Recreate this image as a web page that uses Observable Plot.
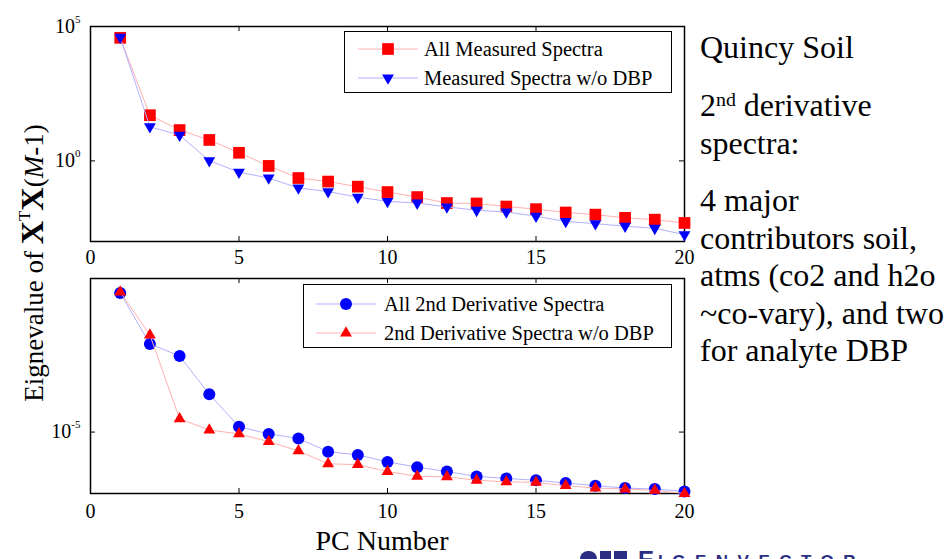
<!DOCTYPE html>
<html><head><meta charset="utf-8">
<script src="https://cdn.jsdelivr.net/npm/d3@7"></script>
<script src="https://cdn.jsdelivr.net/npm/@observablehq/plot@0.6"></script>
<style>
body{margin:0;background:#fff;}
#root{position:relative;width:948px;height:559px;overflow:hidden;font-family:"Liberation Serif","Times New Roman",serif;color:#000;background:#fff;}
.legend{position:absolute;border:1.5px solid #000;background:#fff;box-sizing:border-box;font-size:20.5px;font-family:"Liberation Serif",serif;}
.row{position:absolute;left:0;white-space:nowrap;}
.row svg{position:absolute;left:0;top:0;overflow:visible;}
.row span{position:absolute;top:0;line-height:1;}
.ylab{position:absolute;left:32px;top:263px;transform:translate(-50%,-50%) rotate(-90deg);white-space:nowrap;font-size:27px;line-height:1;font-family:"Liberation Serif",serif;}
.ylab b{font-size:1.2em;}
.ylab sup{font-size:0.62em;vertical-align:0.75em;line-height:0;}
.note{position:absolute;left:700px;font-size:32px;line-height:37.5px;white-space:nowrap;font-family:"Liberation Serif","Times New Roman",serif;}
.note sup{font-size:0.62em;vertical-align:10px;line-height:0;}
.xlab{position:absolute;left:382px;top:527px;transform:translateX(-50%);font-size:28px;line-height:1;white-space:nowrap;font-family:"Liberation Serif",serif;}
.logo{position:absolute;color:#2b2e83;font-family:"Liberation Sans",Arial,sans-serif;font-weight:bold;white-space:nowrap;line-height:1;}
</style></head><body><div id="root"></div>
<script>
// ---- data ----
const pcNumber = [1,2,3,4,5,6,7,8,9,10,11,12,13,14,15,16,17,18,19,20];
const allMeasured   = [3.8e4, 50, 14, 6.0, 2.0, 0.65, 0.23, 0.17, 0.11, 0.069, 0.045, 0.027, 0.026, 0.020, 0.016, 0.012, 0.010, 0.0076, 0.0065, 0.0049];
const measuredNoDBP = [4.0e4, 18.6, 9.1, 1.02, 0.38, 0.23, 0.098, 0.072, 0.045, 0.031, 0.027, 0.0195, 0.0145, 0.0126, 0.0087, 0.0056, 0.0046, 0.0037, 0.0031, 0.0018];
const all2ndDeriv   = [0.34, 7.4e-3, 3.0e-3, 1.7e-4, 1.5e-5, 8.7e-6, 6.2e-6, 2.3e-6, 1.8e-6, 1.07e-6, 7.2e-7, 5.2e-7, 3.6e-7, 3.1e-7, 2.7e-7, 2.2e-7, 1.8e-7, 1.5e-7, 1.4e-7, 1.17e-7];
const deriv2ndNoDBP = [0.36, 0.0145, 2.7e-5, 1.17e-5, 8.7e-6, 4.9e-6, 2.45e-6, 9.3e-7, 8.7e-7, 5.2e-7, 3.6e-7, 3.5e-7, 2.7e-7, 2.4e-7, 2.3e-7, 1.8e-7, 1.5e-7, 1.4e-7, 1.26e-7, 1.0e-7];
const xTicks = [0,5,10,15,20];
const yTicksTop = [1, 1e5];
const yTicksBottom = [1e-5];
const topLegend = ["All Measured Spectra", "Measured Spectra w/o DBP"];
const bottomLegend = ["All 2nd Derivative Spectra", "2nd Derivative Spectra w/o DBP"];

// ---- styles ----
const RED = "#ff0000", BLUE = "#0000ff", RED_LINE = "#ffb0b0", BLUE_LINE = "#b0b0ff";
const sqrt3 = Math.sqrt(3);
const triDown = {draw(ctx, size){ const y = -Math.sqrt(size/(sqrt3*3)); ctx.moveTo(0,-y*2); ctx.lineTo(-sqrt3*y, y); ctx.lineTo(sqrt3*y, y); ctx.closePath(); }};
const triUp = d3.symbolTriangle;

const root = document.getElementById("root");
const PW = 594, PH = 215;

function frameMarks(xt, yt){
  const inner = xt.slice(1,-1);
  return [
    Plot.frame({stroke:"black", strokeWidth:1.5}),
    Plot.tickX(inner, {x:d=>d, insetBottom: PH-5, stroke:"black"}),
    Plot.tickX(inner, {x:d=>d, insetTop: PH-5, stroke:"black"}),
    Plot.tickY(yt, {y:d=>d, insetRight: PW-5, stroke:"black"}),
    Plot.tickY(yt, {y:d=>d, insetLeft: PW-5, stroke:"black"})
  ];
}
function supLabels(svg){
  d3.select(svg).selectAll('g[aria-label="y-axis tick label"] text').each(function(){
    const e = this.textContent;
    const t = d3.select(this); t.text("");
    t.append("tspan").text("10");
    t.append("tspan").attr("dy", -10).attr("font-size", 11).text(e);
  });
}

const topData = pcNumber.map((p,i)=>({pc:p, a:allMeasured[i], b:measuredNoDBP[i]}));
const botData = pcNumber.map((p,i)=>({pc:p, a:all2ndDeriv[i], b:deriv2ndNoDBP[i]}));

const topPlot = Plot.plot({
  width:700, height:268, marginLeft:90, marginRight:16, marginTop:26, marginBottom:27,
  x:{domain:[0,20]}, y:{type:"log", domain:[1e-3,1e5]},
  style:{fontFamily:"Liberation Serif", fontSize:"20px", background:"transparent", overflow:"visible", color:"black"},
  marks:[
    ...frameMarks(xTicks, yTicksTop.slice(0,1)),
    Plot.axisX({ticks:xTicks, tickSize:0, tickPadding:8, tickFormat:d=>String(d), label:null}),
    Plot.axisY({ticks:yTicksTop, tickSize:0, tickPadding:10, tickFormat:d=>String(Math.round(Math.log10(d))), label:null}),
    Plot.line(topData, {x:"pc", y:"a", stroke:RED_LINE, strokeWidth:1}),
    Plot.dot(topData, {x:"pc", y:"a", symbol:"square", r:6.6, fill:RED}),
    Plot.line(topData, {x:"pc", y:"b", stroke:BLUE_LINE, strokeWidth:1}),
    Plot.dot(topData, {x:"pc", y:"b", symbol:triDown, r:4.4, fill:BLUE})
  ]
});
supLabels(topPlot);
topPlot.style.position="absolute"; topPlot.style.left="0px"; topPlot.style.top="0px";
root.appendChild(topPlot);

const botPlot = Plot.plot({
  width:700, height:270, marginLeft:90, marginRight:16, marginTop:10, marginBottom:45,
  x:{domain:[0,20]}, y:{type:"log", domain:[1e-7,1]},
  style:{fontFamily:"Liberation Serif", fontSize:"20px", background:"transparent", overflow:"visible", color:"black"},
  marks:[
    ...frameMarks(xTicks, yTicksBottom),
    Plot.axisX({ticks:xTicks, tickSize:0, tickPadding:10, tickFormat:d=>String(d), label:null}),
    Plot.axisY({ticks:yTicksBottom, tickSize:0, tickPadding:10, tickFormat:d=>String(Math.round(Math.log10(d))), label:null}),
    Plot.line(botData, {x:"pc", y:"a", stroke:BLUE_LINE, strokeWidth:1}),
    Plot.dot(botData, {x:"pc", y:"a", symbol:"circle", r:6, fill:BLUE}),
    Plot.line(botData, {x:"pc", y:"b", stroke:RED_LINE, strokeWidth:1}),
    Plot.dot(botData, {x:"pc", y:"b", symbol:triUp, r:4.4, fill:RED})
  ]
});
supLabels(botPlot);
botPlot.style.position="absolute"; botPlot.style.left="0px"; botPlot.style.top="268px";
root.appendChild(botPlot);

// ---- legends ----
function legend(box, entries){
  const div = document.createElement("div");
  div.className = "legend";
  Object.assign(div.style, {left:box.x+"px", top:box.y+"px", width:box.w+"px", height:box.h+"px"});
  entries.forEach((en, i)=>{
    const row = document.createElement("div");
    row.className = "row";
    row.style.top = (box.rows[i]-box.y-12)+"px";
    const s = d3.create("svg").attr("width",60).attr("height",24)
      .style("left",(box.lx-box.x)+"px");
    s.append("line").attr("x1",0).attr("x2",60).attr("y1",12).attr("y2",12).attr("stroke",en.line).attr("stroke-width",1);
    s.append("path").attr("transform","translate(30,12)")
      .attr("d", d3.symbol(en.symbol, Math.PI*en.r*en.r)()).attr("fill",en.color);
    row.appendChild(s.node());
    const sp = document.createElement("span");
    sp.textContent = en.label;
    sp.style.left = (box.tx-box.x)+"px";
    sp.style.top = "2px";
    row.appendChild(sp);
    div.appendChild(row);
  });
  root.appendChild(div);
}
legend({x:344,y:31,w:328,h:62,rows:[48,77],lx:357,tx:423}, [
  {label:topLegend[0], line:RED_LINE, color:RED, symbol:d3.symbolSquare, r:6.6},
  {label:topLegend[1], line:BLUE_LINE, color:BLUE, symbol:triDown, r:4.4}
]);
legend({x:303,y:284,w:369,h:64,rows:[303,332],lx:315,tx:383}, [
  {label:bottomLegend[0], line:BLUE_LINE, color:BLUE, symbol:d3.symbolCircle, r:6},
  {label:bottomLegend[1], line:RED_LINE, color:RED, symbol:triUp, r:4.4}
]);

// ---- text ----
function addHTML(cls, html, style){
  const d = document.createElement("div");
  d.className = cls; d.innerHTML = html;
  if (style) Object.assign(d.style, style);
  root.appendChild(d);
  return d;
}
addHTML("ylab", 'Eignevalue of <b>X</b><sup>T</sup><b>X</b>(<i>M</i>-1)');
addHTML("xlab", "PC Number");
addHTML("note", "Quincy Soil", {top:"29px"});
addHTML("note", "2<sup>nd</sup> derivative<br>spectra:", {top:"87px"});
addHTML("note", "4 major<br>contributors soil,<br>atms (co2 and h2o<br>~co-vary), and two<br>for analyte DBP", {top:"182px"});

// logo (cut off at the bottom edge, as in the reference)
addHTML("logo", "", {left:"580px", top:"551px", width:"17px", height:"20px", background:"#2b2e83", borderRadius:"8px 8px 0 0"});
addHTML("logo", "", {left:"600px", top:"551px", width:"11px", height:"20px", background:"#2b2e83"});
addHTML("logo", "", {left:"614px", top:"551px", width:"13px", height:"20px", background:"#2b2e83"});
addHTML("logo", "E", {left:"638px", top:"548px", fontSize:"24px"});
addHTML("logo", "IGENVECTOR", {left:"658px", top:"553px", fontSize:"17px", letterSpacing:"9.5px"});
</script></body></html>
